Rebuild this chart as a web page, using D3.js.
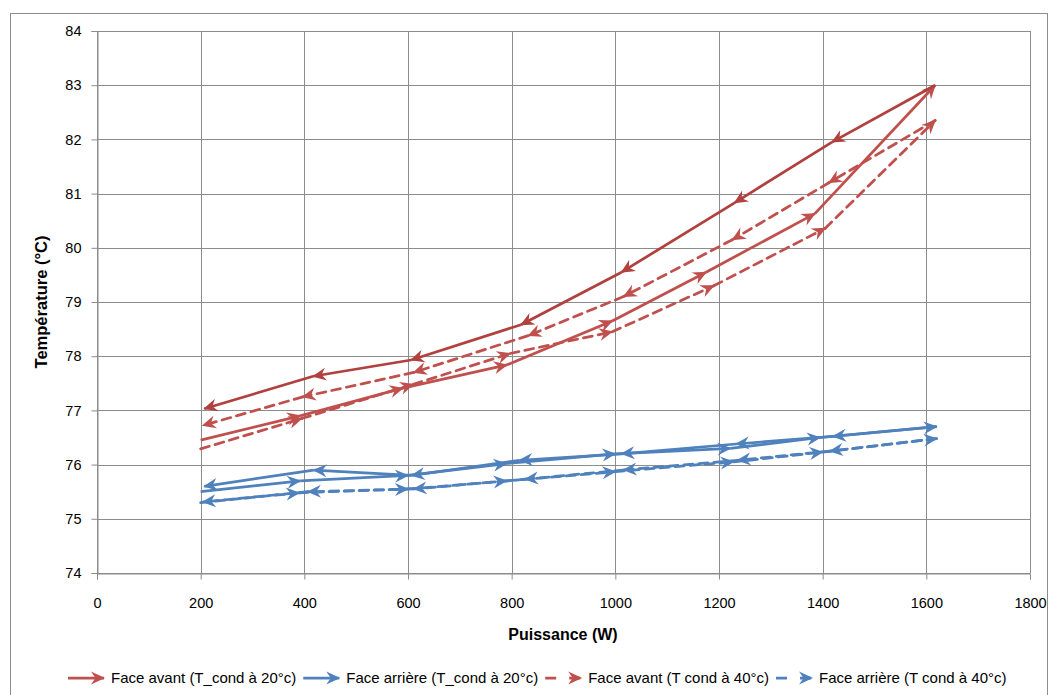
<!DOCTYPE html>
<html><head><meta charset="utf-8">
<script src="https://cdn.jsdelivr.net/npm/d3@7"></script>
<style>
body{margin:0;background:#fff;}
text{font-family:"Liberation Sans","DejaVu Sans",sans-serif;fill:#000;}
</style></head>
<body><svg id="c" width="1051" height="695"></svg>
<script>
// ---- data (travel order: increasing power, then back) ----
const seriesNames = ["Face avant (T_cond à 20°c)","Face arrière (T_cond à 20°c)","Face avant (T cond à 40°c)","Face arrière (T cond à 40°c)"];
const avant20X = [200,392,590,791,994,1175,1385,1617, 1418,1230,1012,818,606,417,207];
const avant20Y = [76.45,76.9,77.41,77.84,78.65,79.55,80.63,83.0, 81.95,80.83,79.55,78.58,77.93,77.63,77.03];
const arriere20X = [200,392,600,790,1000,1222,1395,1620, 1420,1233,1012,815,607,418,207];
const arriere20Y = [75.5,75.7,75.8,76.02,76.2,76.3,76.5,76.7, 76.52,76.38,76.2,76.08,75.8,75.9,75.6];
const avant40X = [200,395,610,797,994,1190,1405,1617, 1412,1226,1016,832,611,397,204];
const avant40Y = [76.29,76.85,77.48,78.05,78.45,79.3,80.36,82.35, 81.2,80.15,79.1,78.38,77.7,77.25,76.72];
const arriere40X = [200,390,600,790,1000,1228,1400,1620, 1414,1236,1016,826,611,407,204];
const arriere40Y = [75.3,75.48,75.55,75.7,75.87,76.05,76.23,76.48, 76.25,76.08,75.9,75.73,75.55,75.5,75.31];
const xTicks = [0,200,400,600,800,1000,1200,1400,1600,1800];
const yTicks = [74,75,76,77,78,79,80,81,82,83,84];
const xTitle = "Puissance (W)";
const yTitle = "Température (°C)";

const svg = d3.select("#c");
const L=97, R=1030, T=31, B=573;
const x = d3.scaleLinear().domain([0,1800]).range([L,R]);
const y = d3.scaleLinear().domain([74,84]).range([B,T]);

// outer frame
svg.append("rect").attr("x",10.5).attr("y",13.5).attr("width",1037).attr("height",700)
  .attr("fill","none").attr("stroke","#8c8c8c").attr("stroke-width",1);

// grid
svg.append("g").selectAll("line").data(xTicks).join("line")
  .attr("x1",d=>Math.round(x(d))+0.5).attr("x2",d=>Math.round(x(d))+0.5)
  .attr("y1",T).attr("y2",B).attr("stroke","#8c8c8c").attr("stroke-width",1);
svg.append("g").selectAll("line").data(yTicks).join("line")
  .attr("y1",d=>Math.round(y(d))+0.5).attr("y2",d=>Math.round(y(d))+0.5)
  .attr("x1",L).attr("x2",R).attr("stroke","#8c8c8c").attr("stroke-width",1);

// axes
const ax = svg.append("g").attr("transform",`translate(0,${B+0.5})`)
  .call(d3.axisBottom(x).tickValues(xTicks).tickSize(6).tickPadding(18).tickFormat(d3.format("d")));
const ay = svg.append("g").attr("transform",`translate(${L+0.5},0)`)
  .call(d3.axisLeft(y).tickValues(yTicks).tickSize(6).tickPadding(10).tickFormat(d3.format("d")));
[ax,ay].forEach(g=>{
  g.selectAll("path,line").attr("stroke","#8c8c8c");
  g.selectAll("text").attr("font-size",14.5).attr("font-family","Liberation Sans, sans-serif");
});

svg.append("text").attr("x",563).attr("y",640).attr("text-anchor","middle")
  .attr("font-size",16).attr("font-weight","bold").text(xTitle);
svg.append("text").attr("transform","translate(47,302) rotate(-90)").attr("text-anchor","middle")
  .attr("font-size",16.5).attr("font-weight","bold").text(yTitle);

// markers
const defs = svg.append("defs");
function marker(id,color){
  defs.append("marker").attr("id",id).attr("markerUnits","userSpaceOnUse")
    .attr("viewBox","-16 -8 18 16").attr("refX",0).attr("refY",0)
    .attr("markerWidth",18).attr("markerHeight",16).attr("orient","auto")
    .append("path").attr("d","M1,0 L-13,-6.5 L-8.5,0 L-13,6.5 Z").attr("fill",color);
}
const red="#C0504D", redDark="#B0413E", blue="#4F81BD";
marker("mr",red); marker("mrd",redDark); marker("mb",blue);

const series = [
  {xs:avant20X, ys:avant20Y, color:red, back:redDark, dash:null},
  {xs:arriere20X, ys:arriere20Y, color:blue, back:blue, dash:null},
  {xs:avant40X, ys:avant40Y, color:red, back:red, dash:"9,6"},
  {xs:arriere40X, ys:arriere40Y, color:blue, back:blue, dash:"9,6"}
];
const mid = c => c===red?"mr":(c===redDark?"mrd":"mb");
const order=[3,1,2,0];
order.forEach(si=>{
  const s=series[si];
  const pts = s.xs.map((v,i)=>[v,s.ys[i]]);
  const segs = d3.pairs(pts).map((p,i)=>({a:p[0],b:p[1],back:i>=7}));
  svg.append("g").selectAll("line").data(segs).join("line")
    .attr("x1",d=>x(d.a[0])).attr("y1",d=>y(d.a[1]))
    .attr("x2",d=>x(d.b[0])).attr("y2",d=>y(d.b[1]))
    .attr("stroke",d=>d.back?s.back:s.color).attr("stroke-width",2.75)
    .attr("stroke-dasharray",s.dash).attr("stroke-linecap",s.dash?"round":"butt")
    .attr("marker-end",d=>`url(#${mid(d.back?s.back:s.color)})`);
});

// legend
const lg = svg.append("g");
let cx = 68; const ly = 678;
series.forEach((s,i)=>{
  lg.append("line").attr("x1",cx).attr("x2",cx+36).attr("y1",ly).attr("y2",ly)
    .attr("stroke",s.color).attr("stroke-width",2.75).attr("stroke-dasharray",s.dash?"11,13":null)
    .attr("marker-end",`url(#${mid(s.color)})`);
  const t = lg.append("text").attr("x",cx+43).attr("y",ly+5).attr("font-size",15).text(seriesNames[i]);
  cx = cx+43+t.node().getComputedTextLength()+7;
});
</script></body></html>
